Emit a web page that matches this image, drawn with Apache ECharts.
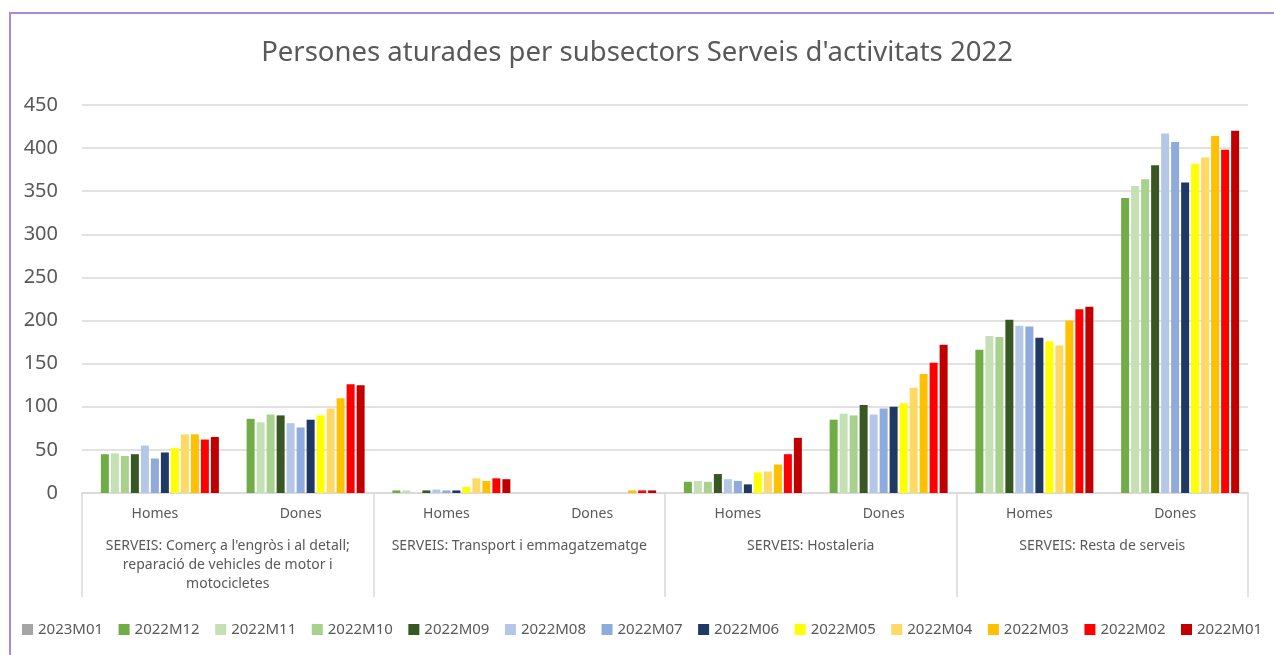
<!DOCTYPE html>
<html>
<head>
<meta charset="utf-8">
<title>Persones aturades per subsectors Serveis d'activitats 2022</title>
<script src="https://cdn.jsdelivr.net/npm/echarts@6/dist/echarts.min.js"></script>
<style>
  html, body { margin: 0; padding: 0; background: #fff; }
  #chart { width: 1274px; height: 655px; }
  #frame {
    position: absolute; left: 9px; top: 12px; width: 1300px; height: 700px;
    border-left: 2px solid #a98ad8; border-top: 2px solid #a98ad8;
    pointer-events: none;
  }
</style>
</head>
<body>
<div id="chart"></div>
<div id="frame"></div>
<script>
// categories
const sexes = ["Homes", "Dones", "Homes", "Dones", "Homes", "Dones", "Homes", "Dones"];
const groups = [
  "SERVEIS: Comerç a l'engròs i al detall;\nreparació de vehicles de motor i\nmotocicletes",
  "SERVEIS: Transport i emmagatzematge",
  "SERVEIS: Hostaleria",
  "SERVEIS: Resta de serveis"
];
const yTicks = [0, 50, 100, 150, 200, 250, 300, 350, 400, 450];

// series values (per category, left to right)
const m2023_01 = [null, null, null, null, null, null, null, null];
const m2022_12 = [45, 86, 3, 0, 13, 85, 166, 342];
const m2022_11 = [46, 82, 3, 0, 14, 92, 182, 356];
const m2022_10 = [43, 91, 0, 0, 13, 90, 181, 364];
const m2022_09 = [45, 90, 3, 0, 22, 102, 201, 380];
const m2022_08 = [55, 81, 4, 0, 16, 91, 194, 417];
const m2022_07 = [40, 76, 3, 0, 14, 98, 193, 407];
const m2022_06 = [47, 85, 3, 0, 10, 100, 180, 360];
const m2022_05 = [52, 90, 7, 0, 24, 104, 176, 382];
const m2022_04 = [68, 98, 17, 0, 25, 122, 171, 389];
const m2022_03 = [68, 110, 14, 3, 33, 138, 200, 414];
const m2022_02 = [62, 126, 17, 3, 45, 151, 213, 398];
const m2022_01 = [65, 125, 16, 3, 64, 172, 216, 420];

const seriesList = [
  { name: "2023M01", data: m2023_01, color: "#a5a5a5" },
  { name: "2022M12", data: m2022_12, color: "#70ad47" },
  { name: "2022M11", data: m2022_11, color: "#c5e0b4" },
  { name: "2022M10", data: m2022_10, color: "#a9d18e" },
  { name: "2022M09", data: m2022_09, color: "#385723" },
  { name: "2022M08", data: m2022_08, color: "#b4c7e7" },
  { name: "2022M07", data: m2022_07, color: "#8faadc" },
  { name: "2022M06", data: m2022_06, color: "#203864" },
  { name: "2022M05", data: m2022_05, color: "#ffff00" },
  { name: "2022M04", data: m2022_04, color: "#ffd966" },
  { name: "2022M03", data: m2022_03, color: "#ffc000" },
  { name: "2022M02", data: m2022_02, color: "#ff0000" },
  { name: "2022M01", data: m2022_01, color: "#c00000" }
];

const font = "Noto Sans";
const textColor = "#595959";
const lineColor = "#d9d9d9";

let option = {
  animation: false,
  textStyle: { fontFamily: font },
  title: {
    text: "Persones aturades per subsectors Serveis d'activitats 2022",
    left: "center",
    top: 34,
    textStyle: { fontFamily: font, fontSize: 27.5, fontWeight: "normal", color: textColor }
  },
  legend: {
    bottom: 18,
    left: 22,
    width: 1252,
    padding: 0,
    icon: "rect",
    itemWidth: 11,
    itemHeight: 11,
    itemGap: 15.5,
    textStyle: { fontFamily: font, fontSize: 15, color: textColor },
    data: seriesList.map(s => s.name)
  },
  grid: {
    left: 82,
    right: 26,
    top: 105,
    bottom: 162
  },
  xAxis: [
    {
      type: "category",
      data: sexes,
      axisLine: { lineStyle: { color: lineColor, width: 1.5 } },
      axisTick: { show: false },
      axisLabel: { margin: 14, fontFamily: font, fontSize: 14, color: textColor }
    },
    {
      type: "category",
      data: groups,
      position: "bottom",
      axisLine: { show: false },
      axisTick: { show: true, length: 104, lineStyle: { color: lineColor, width: 1.5 } },
      axisLabel: {
        margin: 44,
        fontFamily: font,
        fontSize: 14,
        lineHeight: 19,
        color: textColor,
        verticalAlign: "top",
        interval: 0
      }
    }
  ],
  yAxis: {
    type: "value",
    min: yTicks[0],
    max: yTicks[yTicks.length - 1],
    interval: 50,
    axisLine: { show: false },
    axisTick: { show: false },
    splitLine: { lineStyle: { color: lineColor, width: 1.5 } },
    axisLabel: { margin: 24, fontFamily: font, fontSize: 20, color: textColor }
  },
  series: seriesList.map(s => ({
    name: s.name,
    type: "bar",
    xAxisIndex: 0,
    data: s.data,
    barWidth: 8,
    barGap: "25%",
    itemStyle: { color: s.color }
  }))
};

let chart = echarts.init(document.getElementById("chart"));
chart.setOption(option, true);
</script>
</body>
</html>
